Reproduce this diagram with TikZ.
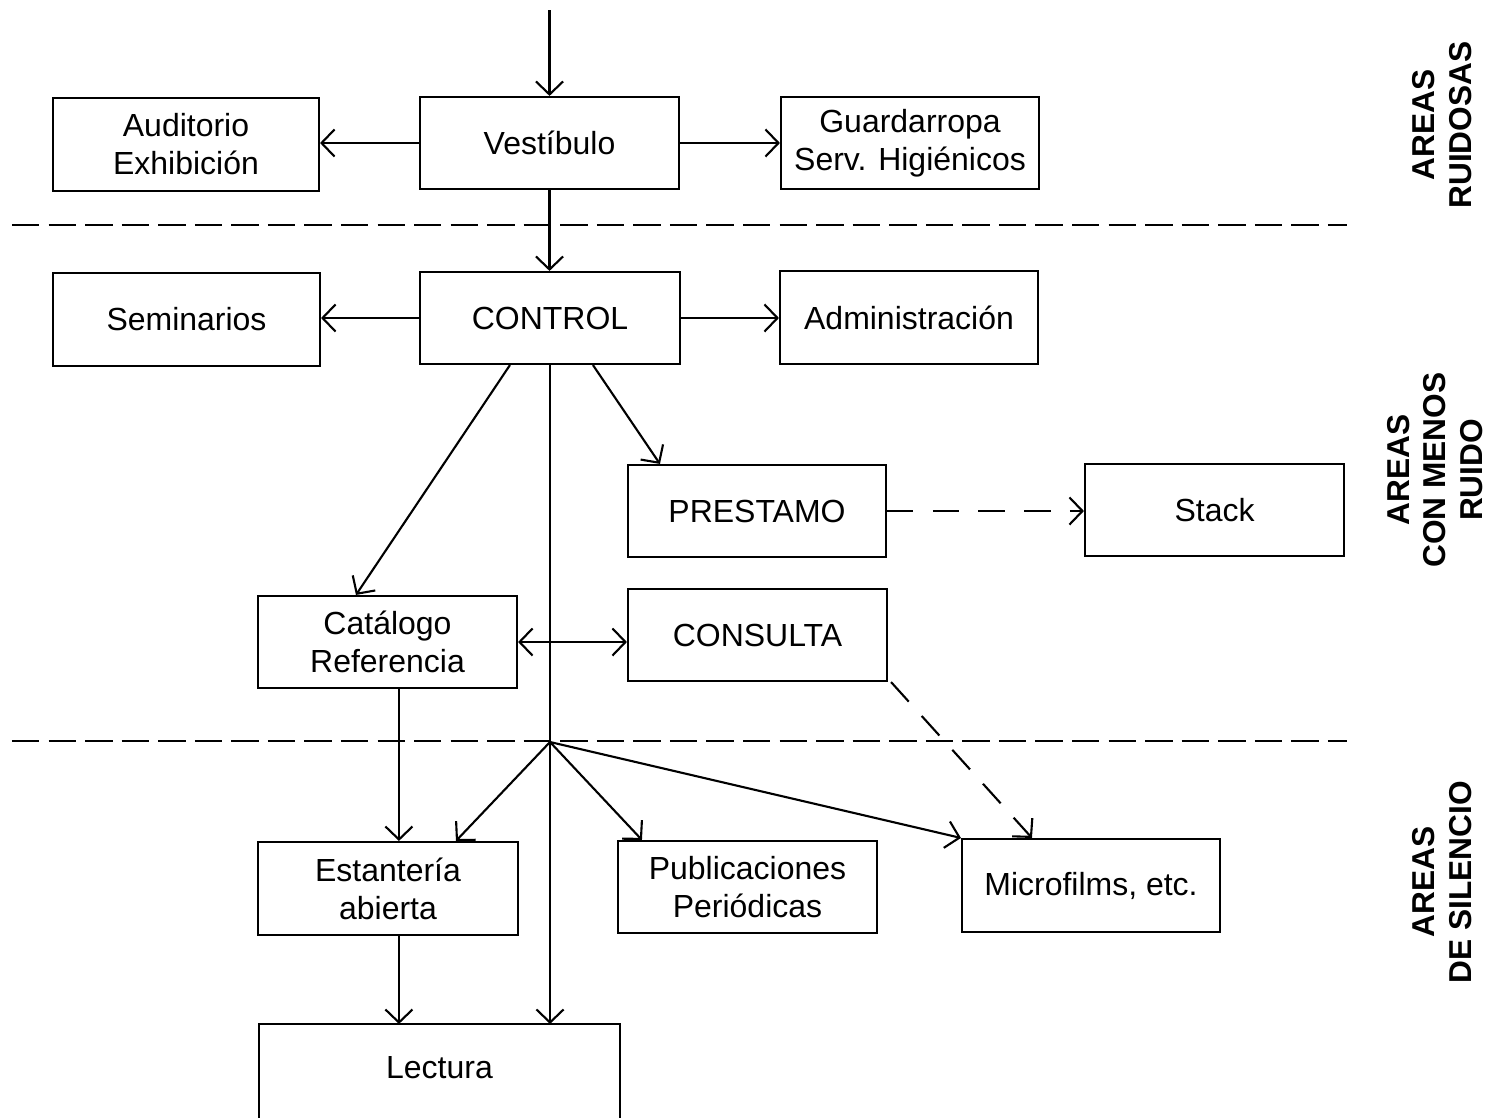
\documentclass[tikz,border=0pt]{standalone}
\usepackage{fontspec}
\setmainfont{Liberation Sans}
\usetikzlibrary{arrows.meta,calc}
\begin{document}
\begin{tikzpicture}[
  line width=0.6pt,
  box/.style={draw, line width=0.6pt, rectangle, inner sep=0pt, align=center,
    font=\fontsize{9.1}{10.8}\selectfont},
  arr/.style={-{Straight Barb[length=3.7pt,width=7.7pt,line width=0.6pt]}},
  arrboth/.style={{Straight Barb[length=3.7pt,width=7.7pt,line width=0.6pt]}-{Straight Barb[length=3.7pt,width=7.7pt,line width=0.6pt]}},
  sep/.style={dash pattern=on 7.8pt off 2.6pt},
  dlink/.style={dash pattern=on 7.5pt off 5.5pt},
  side/.style={rotate=90, align=center, inner sep=0pt,
    font=\fontsize{9}{10.5}\selectfont\bfseries}
]
\path[use as bounding box] (0,0) rectangle (14.99,-11.17);
\clip (0,0) rectangle (14.99,-11.17);

% boxes
\node[box, minimum width=2.66cm, minimum height=0.93cm] (aud) at (1.86,-1.445) {Auditorio\\Exhibición};
\node[box, minimum width=2.59cm, minimum height=0.92cm] (vest) at (5.495,-1.43) {Vestíbulo};
\node[box, minimum width=2.58cm, minimum height=0.92cm] (guard) at (9.10,-1.43) {Guardarropa\\Serv. Higiénicos};
\node[box, minimum width=2.67cm, minimum height=0.93cm] (sem) at (1.865,-3.195) {Seminarios};
\node[box, minimum width=2.60cm, minimum height=0.92cm] (control) at (5.50,-3.18) {CONTROL};
\node[box, minimum width=2.58cm, minimum height=0.93cm] (admin) at (9.09,-3.175) {Administración};
\node[box, minimum width=2.58cm, minimum height=0.92cm] (prest) at (7.57,-5.11) {PRESTAMO};
\node[box, minimum width=2.59cm, minimum height=0.92cm] (stack) at (12.145,-5.10) {Stack};
\node[box, minimum width=2.59cm, minimum height=0.92cm] (cat) at (3.875,-6.42) {Catálogo\\Referencia};
\node[box, minimum width=2.59cm, minimum height=0.92cm] (cons) at (7.575,-6.35) {CONSULTA};
\node[box, minimum width=2.60cm, minimum height=0.93cm] (est) at (3.88,-8.885) {Estantería\\abierta};
\node[box, minimum width=2.59cm, minimum height=0.92cm] (pub) at (7.475,-8.87) {Publicaciones\\Periódicas};
\node[box, minimum width=2.58cm, minimum height=0.93cm] (micro) at (10.91,-8.855) {Microfilms, etc.};
\node[box, draw=none, minimum width=3.59cm, minimum height=0.86cm] (lect) at (4.395,-10.68) {Lectura};
\draw ([yshift=-3mm]lect.south west) -- (lect.north west) -- (lect.north east) -- ([yshift=-3mm]lect.south east);

% separators
\coordinate (d1a) at (0.12,-2.25);
\coordinate (d1b) at (13.47,-2.25);
\coordinate (d2a) at (0.12,-7.41);
\coordinate (d2b) at (13.47,-7.41);
\draw[sep] (d1a) -- (d1b);
\draw[sep] (d2a) -- (d2b);

% side labels
\node[side] (l1) at (14.42,-1.25) {AREAS\\RUIDOSAS};
\node[side] (l2) at (14.35,-4.70) {AREAS\\CON MENOS\\RUIDO};
\node[side] (l3) at (14.42,-8.82) {AREAS\\DE SILENCIO};

% connectors
\coordinate (in) at (5.495,-0.10);
\draw[arr] (in) -- (vest.north);
\draw[arr] (vest.west) -- (vest.west -| aud.east);
\draw[arr] (vest.east) -- (vest.east -| guard.west);
\draw[arr] (vest.south) -- (vest.south |- control.north);
\draw[arr] (control.west) -- (control.west -| sem.east);
\draw[arr] (control.east) -- (control.east -| admin.west);
\draw[arr] ([xshift=0.91cm]control.south west) -- ([xshift=0.99cm]cat.north west);
\draw[arr] ([xshift=1.74cm]control.south west) -- ([xshift=0.33cm]prest.north west);
\draw[arr] (control.south) -- (control.south |- lect.north);
\draw[arr, dlink] (prest.east) -- (prest.east -| stack.west);
\draw[arrboth] (cat.east) -- (cat.east -| cons.west);
\draw[arr, dlink] ([xshift=0.03cm]cons.south east) -- ([xshift=0.71cm]micro.north west);
\coordinate (c1) at ([xshift=1.42cm]cat.south west);
\draw[arr] (c1) -- (c1 |- est.north);
\coordinate (fan) at (5.50,-7.42);
\draw[arr] (fan) -- ([xshift=1.99cm]est.north west);
\draw[arr] (fan) -- ([xshift=0.25cm]pub.north west);
\draw[arr] (fan) -- (micro.north west);
\coordinate (e1) at ([xshift=1.42cm]est.south west);
\draw[arr] (e1) -- (e1 |- lect.north);
\end{tikzpicture}
\end{document}
